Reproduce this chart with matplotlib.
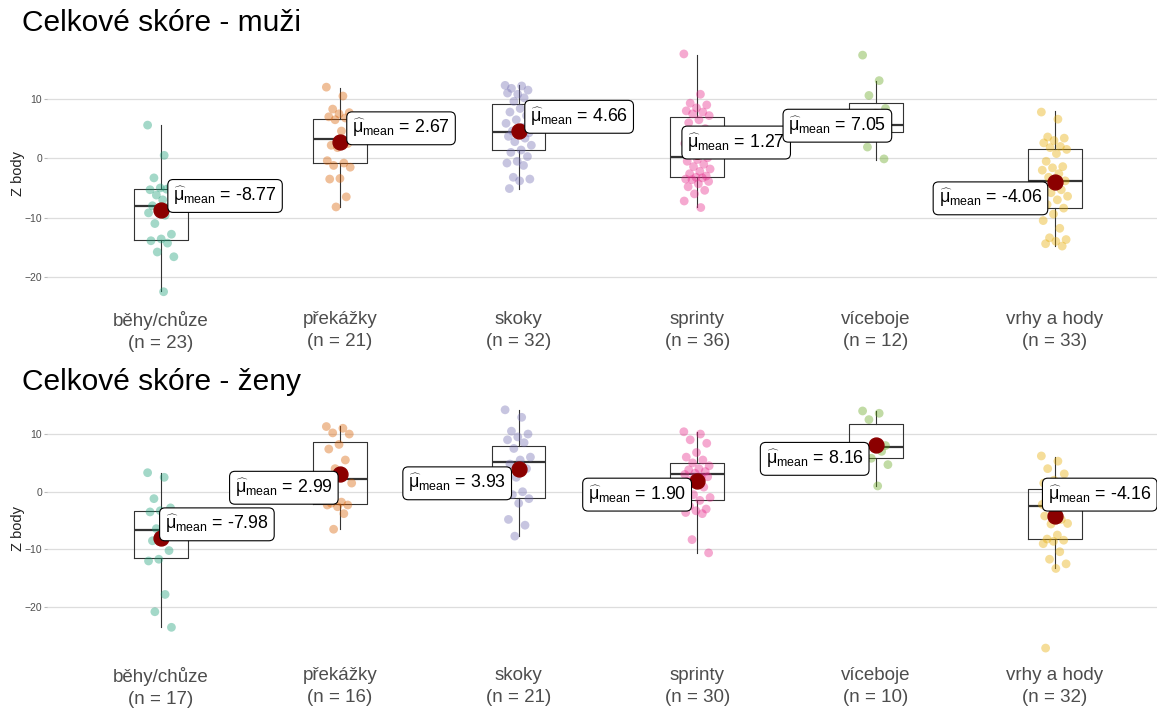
import numpy as np
import matplotlib.pyplot as plt

plt.rcParams['font.family'] = ['Liberation Sans', 'DejaVu Sans']
plt.rcParams['mathtext.fontset'] = 'custom'
plt.rcParams['mathtext.rm'] = 'Liberation Sans'
plt.rcParams['mathtext.it'] = 'Liberation Sans:italic'
plt.rcParams['mathtext.bf'] = 'Liberation Sans:bold'

categories = ['běhy/chůze', 'překážky', 'skoky', 'sprinty', 'víceboje', 'vrhy a hody']

# --- muži: jednotlivé body (Z body)
muzi_points = [
    [5.6, 0.5, -3.3, -4.8, -5.0, -5.3, -5.2, -6.2, -6.7, -7.0, -8.0, -8.2, -8.8, -9.2,
     -9.6, -11.0, -12.8, -13.6, -13.9, -14.3, -15.8, -16.6, -22.5],
    [12.0, 10.5, 8.3, 7.7, 7.5, 7.0, 6.8, 6.5, 4.2, 4.6, 2.2, 2.5, 1.8, -0.4, -0.8,
     -1.2, -1.5, -3.4, -3.5, -6.5, -8.2],
    [12.3, 12.2, 11.8, 11.5, 10.8, 11.0, 10.2, 9.6, 9.1, 8.4, 7.8, 7.2, 6.5, 5.9, 5.2,
     4.6, 4.3, 4.0, 3.7, 3.4, 2.8, 2.2, 1.4, 1.0, 0.3, -0.5, -0.8, -1.2, -3.2, -3.5,
     -3.8, -5.1],
    [17.6, 10.8, 9.3, 9.0, 8.5, 8.0, 7.8, 7.5, 7.2, 6.5, 6.0, 5.0, 3.8, 2.5, 1.5, 0.8,
     0.1, -0.2, -0.5, -1.0, -1.4, -1.8, -2.2, -2.6, -3.0, -3.2, -3.5, -3.3, -3.6, -3.9,
     -4.3, -4.8, -5.4, -6.0, -7.2, -8.3],
    [17.4, 13.1, 10.6, 8.4, 7.6, 6.0, 5.6, 5.0, 4.6, 4.5, 1.9, -0.1],
    [7.8, 6.6, 3.6, 3.4, 3.0, 2.6, 2.0, 1.8, 1.5, 0.8, -0.5, -1.4, -1.6, -2.0, -2.6,
     -3.2, -3.8, -4.4, -4.8, -5.3, -5.8, -6.4, -7.0, -7.8, -8.4, -9.4, -10.5, -11.8,
     -13.4, -13.7, -14.0, -14.4, -14.8],
]
muzi_q1 = [-13.8, -0.85, 1.35, -3.15, 4.4, -8.4]
muzi_med = [-8.0, 3.25, 4.5, 0.17, 5.6, -3.8]
muzi_q3 = [-5.2, 6.6, 9.1, 6.9, 9.3, 1.5]
muzi_lo = [-22.3, -8.2, -5.1, -8.15, -0.2, -14.8]
muzi_hi = [5.6, 11.9, 12.4, 17.5, 13.1, 8.0]
muzi_mean = [-8.77, 2.67, 4.66, 1.27, 7.05, -4.06]

# --- ženy
zeny_points = [
    [3.3, 2.5, -1.2, -2.8, -3.3, -3.5, -5.8, -6.4, -6.5, -7.5, -8.5, -10.2, -11.7,
     -12.0, -17.8, -20.8, -23.5],
    [11.3, 11.0, 10.2, 10.0, 8.2, 7.4, 5.5, 4.0, 1.5, -1.8, -2.0, -2.3, -2.6, -2.3,
     -3.8, -6.5],
    [14.2, 12.9, 10.5, 10.0, 9.5, 9.0, 8.5, 7.5, 6.0, 5.5, 4.8, 4.0, 2.5, -0.4, 0.0,
     -0.5, -1.2, -2.0, -4.8, -5.8, -7.7],
    [10.4, 10.0, 9.0, 8.4, 6.8, 6.0, 5.5, 5.0, 4.5, 4.0, 3.8, 3.5, 3.2, 3.0, 2.5, 2.0,
     2.6, 2.3, 1.8, 0.8, -0.5, -1.0, -1.5, -2.5, -3.0, -3.3, -3.6, -3.8, -8.3, -10.6],
    [14.0, 13.6, 12.5, 8.0, 7.8, 7.2, 7.0, 5.8, 4.7, 1.0],
    [6.2, 5.3, 4.0, 3.1, 2.0, 1.5, 0.8, 0.2, -0.2, -1.0, -1.4, -1.8, -2.0, -2.2, -2.3,
     -2.5, -2.6, -3.4, -4.2, -4.8, -5.6, -5.5, -7.5, -8.2, -8.4, -8.6, -9.0, -10.4,
     -11.7, -12.5, -13.3, -27.1],
]
zeny_q1 = [-11.55, -2.1, -1.0, -1.5, 5.8, -8.2]
zeny_med = [-6.6, 2.15, 5.1, 3.1, 7.75, -2.5]
zeny_q3 = [-3.3, 8.55, 8.0, 4.9, 11.7, 0.4]
zeny_lo = [-23.5, -6.5, -7.7, -10.6, 1.0, -13.3]
zeny_hi = [3.2, 11.4, 14.2, 10.4, 14.0, 6.0]
zeny_mean = [-7.98, 2.99, 3.93, 1.90, 8.16, -4.16]

colors = ['#1B9E77', '#D95F02', '#7570B3', '#E7298A', '#66A61E', '#E6AB02']

# label placement (edge x in category units, centre y, side)
muzi_lab = [(1.04, -6.35, 'left'), (2.041, 5.06, 'left'), (3.037, 7.0, 'left'),
            (3.916, 2.66, 'left'), (5.086, 5.5, 'right'), (5.959, -6.75, 'right')]
zeny_lab = [(0.994, -5.65, 'left'), (1.989, 0.69, 'right'), (2.959, 1.46, 'right'),
            (3.966, -0.5, 'right'), (4.959, 5.7, 'right'), (5.933, -0.5, 'left')]


def draw_panel(ax, points, q1, med, q3, lo, hi, means, labs, ylim):
    pos = np.arange(1, len(categories) + 1)
    stats = [dict(med=med[i], q1=q1[i], q3=q3[i], whislo=lo[i], whishi=hi[i], fliers=[])
             for i in range(len(pos))]
    ax.bxp(stats, positions=pos, widths=0.3, showfliers=False, showcaps=False,
           boxprops=dict(color='#333333', lw=0.8),
           whiskerprops=dict(color='#333333', lw=0.8),
           medianprops=dict(color='#333333', lw=1.6), zorder=2)
    for i, pts in enumerate(points):
        n = len(pts)
        jit = ((np.arange(n) * 0.618034) % 1 - 0.5) * 0.15
        ax.scatter(pos[i] + jit, pts, s=40, color=colors[i], alpha=0.4,
                   edgecolors='none', zorder=3)
        ax.scatter(pos[i], means[i], s=115, color='#8B0000', zorder=4)
        lx, ly, side = labs[i]
        txt = r'$\widehat{\mathrm{\mu}}_{\mathrm{mean}}$ = %.2f' % means[i]
        ax.annotate(txt, xy=(lx, ly), xytext=(5 if side == 'left' else -5, 0),
                    textcoords='offset pixels', ha=side, va='center', fontsize=12.8,
                    bbox=dict(boxstyle='round,pad=0.3,rounding_size=0.3',
                              fc='white', ec='black', lw=0.8), zorder=5)
    ax.set_xlim(0.362, 6.572)
    ax.set_ylim(*ylim)
    ax.set_yticks([-20, -10, 0, 10])
    ax.set_xticks(pos)
    ax.set_xticklabels(['%s\n(n = %d)' % (c, len(p)) for c, p in zip(categories, points)],
                       fontsize=13.5, color='#4D4D4D', linespacing=1.35)
    ax.tick_params(axis='x', length=0, pad=5)
    ax.tick_params(axis='y', length=2.5, pad=1, labelsize=7.5, labelcolor='#4D4D4D',
                   color='#BBBBBB')
    ax.grid(axis='y', color='#DDDDDD', lw=0.9)
    ax.set_axisbelow(True)
    for s in ax.spines.values():
        s.set_visible(False)
    ax.set_ylabel('Z body', fontsize=10.5, color='#222222')
    ax.yaxis.set_label_coords(-0.0198, 0.5)


fig = plt.figure(figsize=(11.57, 7.11), dpi=100)
ax1 = fig.add_axes([0.0406, 0.5724, 0.9594, 0.3685])
ax2 = fig.add_axes([0.0406, 0.0717, 0.9594, 0.3713])

draw_panel(ax1, muzi_points, muzi_q1, muzi_med, muzi_q3, muzi_lo, muzi_hi, muzi_mean,
           muzi_lab, (-24.57, 19.61))
draw_panel(ax2, zeny_points, zeny_q1, zeny_med, zeny_q3, zeny_lo, zeny_hi, zeny_mean,
           zeny_lab, (-29.17, 16.59))

fig.text(22 / 1157, 1 - 31 / 711, 'Celkové skóre - muži', fontsize=21.5, va='baseline')
fig.text(22 / 1157, 1 - 390 / 711, 'Celkové skóre - ženy', fontsize=21.5, va='baseline')

fig.savefig('out.png', dpi=100)
